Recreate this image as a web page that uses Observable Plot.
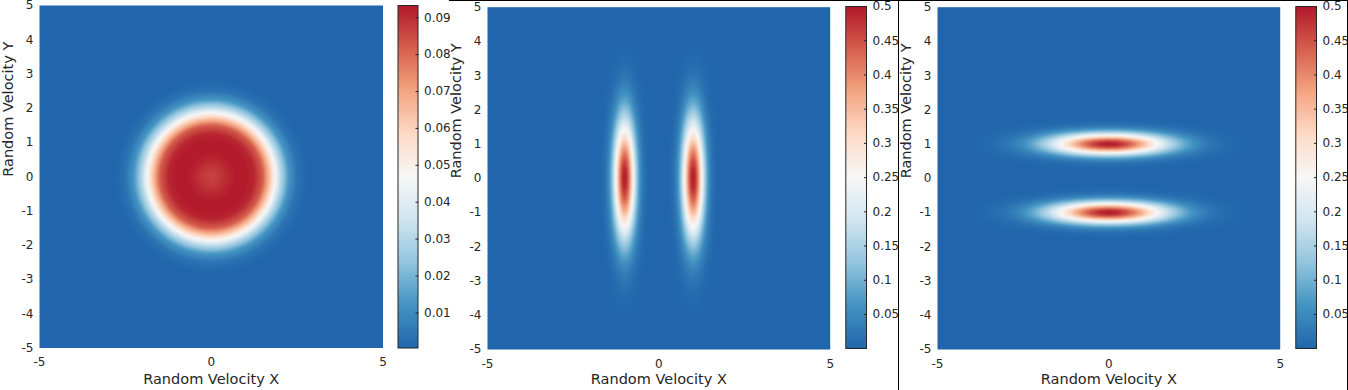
<!DOCTYPE html>
<html><head><meta charset="utf-8">
<script src="https://cdn.jsdelivr.net/npm/d3@7"></script>
<script src="https://cdn.jsdelivr.net/npm/@observablehq/plot@0.6"></script>
<style>
html,body{margin:0;padding:0;background:#fff;}
#root{position:relative;width:1348px;height:390px;overflow:hidden;font-family:"DejaVu Sans",sans-serif;}
#root svg{position:absolute;top:0;}
.rule{position:absolute;background:#000;}
</style></head><body><div id="root"></div>
<script>
// ---------- data ----------
const velExtent = [-5, 5];
const xTicks = [-5, 0, 5];
const yTicks = [-5, -4, -3, -2, -1, 0, 1, 2, 3, 4, 5];
const xLabel = "Random Velocity X";
const yLabel = "Random Velocity Y";

// diverging colour map (blue = low, red = high)
const colorStops = ["#2166ac", "#4393c3", "#92c5de", "#d1e5f0", "#f7f7f7", "#fddbc7", "#f4a582", "#d6604d", "#b2182b"];

// colour bars
const cbDomain1 = [0.0005, 0.0933];
const cbTicks1 = [0.01, 0.02, 0.03, 0.04, 0.05, 0.06, 0.07, 0.08, 0.09];
const cbDomain2 = [0.0003, 0.5];
const cbTicks2 = [0.05, 0.1, 0.15, 0.2, 0.25, 0.3, 0.35, 0.4, 0.45, 0.5];

// panel 1: radial profile of the disc (value vs distance from origin)
const ringRadius = [0, 0.25, 0.5, 0.75, 1.0, 1.25, 1.5, 1.75, 2.0, 2.25, 2.5, 2.75, 3.0];
const ringValue  = [0.086, 0.088, 0.091, 0.093, 0.093, 0.091, 0.082, 0.059, 0.032, 0.013, 0.004, 0.001, 0];

// panels 2 and 3: two lobes each
const lobePeak = 0.5;
const lobes2X = [-1, 1], lobes2Y = [0, 0];
const lobes3X = [0, 0],  lobes3Y = [1, -1];
// profile along the long axis of a lobe (fraction of peak)
const lobeLongOffset = [0, 0.25, 0.5, 0.75, 1, 1.25, 1.5, 1.75, 2, 2.25, 2.5, 2.75, 3, 3.25, 3.5, 3.75, 4];
const lobeLongRatio  = [1, 0.979, 0.917, 0.823, 0.707, 0.581, 0.458, 0.345, 0.249, 0.172, 0.114, 0.072, 0.044, 0.026, 0.014, 0.008, 0];
// profile across the short axis of a lobe (fraction of peak)
const lobeShortOffset = [0, 0.05, 0.1, 0.15, 0.2, 0.25, 0.3, 0.35, 0.4, 0.45, 0.5, 0.55, 0.6, 0.65, 0.7, 0.75, 0.8];
const lobeShortRatio  = [1, 0.975, 0.902, 0.793, 0.662, 0.524, 0.395, 0.282, 0.191, 0.123, 0.076, 0.044, 0.024, 0.013, 0.006, 0.003, 0];

// ---------- helpers ----------
function profile(offsets, values, d) {
  d = Math.abs(d);
  const n = offsets.length;
  if (d >= offsets[n - 1]) return values[n - 1];
  const i = d3.bisectRight(offsets, d) - 1;
  const t = (d - offsets[i]) / (offsets[i + 1] - offsets[i]);
  return values[i] + t * (values[i + 1] - values[i]);
}
const field1 = (x, y) => profile(ringRadius, ringValue, Math.hypot(x, y));
const field2 = (x, y) => d3.sum(lobes2X, (cx, i) =>
  lobePeak * profile(lobeShortOffset, lobeShortRatio, x - cx) * profile(lobeLongOffset, lobeLongRatio, y - lobes2Y[i]));
const field3 = (x, y) => d3.sum(lobes3X, (cx, i) =>
  lobePeak * profile(lobeLongOffset, lobeLongRatio, x - cx) * profile(lobeShortOffset, lobeShortRatio, y - lobes3Y[i]));

function colorOpts(domain) {
  const n = colorStops.length;
  return {type: "linear", domain: d3.range(n).map(i => domain[0] + (domain[1] - domain[0]) * i / (n - 1)), range: colorStops, clamp: true};
}
const baseStyle = {background: "transparent", fontFamily: "'DejaVu Sans', sans-serif", fontSize: "12px", color: "#262626"};

function heatPlot(fill, domain, m) {
  return Plot.plot({
    width: 390, height: 390,
    marginLeft: 39, marginRight: m.right, marginTop: m.top, marginBottom: m.bottom,
    style: baseStyle,
    x: {domain: velExtent}, y: {domain: velExtent},
    color: colorOpts(domain),
    marks: [
      Plot.raster({fill, x1: velExtent[0], x2: velExtent[1], y1: velExtent[0], y2: velExtent[1], pixelSize: 1}),
      Plot.axisX({ticks: xTicks, tickSize: 0, tickPadding: 9.5, tickFormat: d => String(d), label: null}),
      Plot.axisY({ticks: yTicks, tickSize: 0, tickPadding: 6, tickFormat: d => String(d), label: null}),
      Plot.text([xLabel], {text: d => d, frameAnchor: "bottom", dy: m.labelDy, fontSize: 14.5, fill: "#262626"}),
      Plot.text([yLabel], {text: d => d, frameAnchor: "left", dx: -31, rotate: -90, fontSize: 14.5, fill: "#262626"})
    ]
  });
}
function colorBar(domain, ticks, m) {
  return Plot.plot({
    width: 60, height: 390,
    marginLeft: m.left, marginRight: 60 - m.left - m.w, marginTop: m.top, marginBottom: 390 - m.bottom,
    style: baseStyle,
    x: {domain: [0, 1], axis: null}, y: {domain},
    color: colorOpts(domain),
    marks: [
      Plot.raster({fill: (x, y) => y, x1: 0, x2: 1, y1: domain[0], y2: domain[1], pixelSize: 1}),
      Plot.frame({stroke: "#262626"}),
      Plot.axisY({anchor: "right", ticks, tickSize: -3, tickPadding: 9, tickFormat: d => String(d), label: null})
    ]
  });
}

const root = document.getElementById("root");
function place(svg, left) { svg.style.left = left + "px"; root.appendChild(svg); }

place(heatPlot(field1, cbDomain1, {right: 7.5, top: 5, bottom: 42.5, labelDy: 35.5}), 0);
place(colorBar(cbDomain1, cbTicks1, {left: 7.5, w: 20, top: 5, bottom: 347.5}), 390);
place(heatPlot(field2, cbDomain2, {right: 8.3, top: 6.7, bottom: 41, labelDy: 34}), 448);
place(colorBar(cbDomain2, cbTicks2, {left: 7.3, w: 20.7, top: 6, bottom: 348}), 838);
place(heatPlot(field3, cbDomain2, {right: 8.3, top: 6.7, bottom: 41, labelDy: 34}), 898);
place(colorBar(cbDomain2, cbTicks2, {left: 7.3, w: 20.7, top: 6, bottom: 348}), 1288);

// frame rules of the composite figure
[[449, 0, 899, 1], [898, 0, 1, 390], [1347, 0, 1, 390]].forEach(([l, t, w, h]) => {
  const d = document.createElement("div");
  d.className = "rule";
  Object.assign(d.style, {left: l + "px", top: t + "px", width: w + "px", height: h + "px"});
  root.appendChild(d);
});
</script></body></html>
